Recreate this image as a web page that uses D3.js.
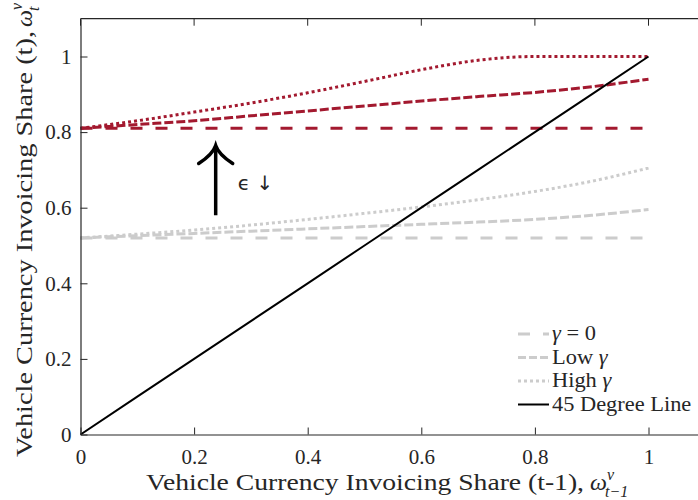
<!DOCTYPE html>
<html><head><meta charset="utf-8">
<script src="https://cdn.jsdelivr.net/npm/d3@7"></script>
<style>body{margin:0;background:#fff}svg{display:block}text{fill:#262626}</style>
</head><body><svg id="c" width="698" height="500"></svg>
<script>
const xGrid = [0, 0.1, 0.2, 0.3, 0.4, 0.5, 0.6, 0.7, 0.8, 0.9, 1.0];
const redZero = [0.81, 0.81, 0.81, 0.81, 0.81, 0.81, 0.81, 0.81, 0.81, 0.81, 0.81];
const redLow  = [0.81, 0.82, 0.83, 0.843, 0.856, 0.869, 0.882, 0.894, 0.905, 0.92, 0.94];
const redHigh = [0.81, 0.83, 0.853, 0.877, 0.904, 0.934, 0.965, 0.99, 1.0, 1.0, 1.0];
const grayZero = [0.52, 0.52, 0.52, 0.52, 0.52, 0.52, 0.52, 0.52, 0.52, 0.52, 0.52];
const grayLow  = [0.52, 0.526, 0.532, 0.538, 0.544, 0.55, 0.556, 0.562, 0.569, 0.58, 0.595];
const grayHigh = [0.52, 0.53, 0.541, 0.554, 0.569, 0.585, 0.602, 0.621, 0.643, 0.67, 0.705];
const diag = [0, 0.1, 0.2, 0.3, 0.4, 0.5, 0.6, 0.7, 0.8, 0.9, 1.0];
const xTicks = [0, 0.2, 0.4, 0.6, 0.8, 1];
const yTicks = [0, 0.2, 0.4, 0.6, 0.8, 1];
const legendLabels = ["γ = 0", "Low γ", "High γ", "45 Degree Line"];
const arrowX = 0.238, arrowY0 = 0.58, arrowY1 = 0.762;
const epsLabel = {x: 0.277, y: 0.648, text: "ϵ ↓"};

const SERIF = "'Liberation Serif','Times New Roman',serif";
const svg = d3.select("#c");
const x = d3.scaleLinear().domain([0, 1.1]).range([80.5, 705.3]);
const y = d3.scaleLinear().domain([0, 1.1]).range([434.5, 18.7]);
const RED = "#a3192f", GRAY = "#cccccc";

svg.append("defs").append("clipPath").attr("id","pc").append("rect")
  .attr("x",80).attr("y",18).attr("width",626).attr("height",417);

const line = d3.line().x(d => x(d[0])).y(d => y(d[1])).curve(d3.curveMonotoneX);
const straight = d3.line().x(d => x(d[0])).y(d => y(d[1]));
const zip = v => xGrid.map((xx,i)=>[xx,v[i]]);
const g = svg.append("g").attr("clip-path","url(#pc)");
const series = [
  {v: grayZero, c: GRAY, w: 3, d: "12,13"},
  {v: grayLow, c: GRAY, w: 3, d: "9,3"},
  {v: grayHigh, c: GRAY, w: 3, d: "3,3"},
  {v: redZero, c: RED, w: 3, d: "12,13"},
  {v: redLow, c: RED, w: 3, d: "9,3"},
  {v: redHigh, c: RED, w: 3, d: "3,3"},
  {v: diag, c: "#000", w: 2, d: null, lin: true}
];
series.forEach(s => {
  g.append("path")
   .attr("d", s.lin ? straight(zip(s.v)) : line(zip(s.v)))
   .attr("fill","none").attr("stroke", s.c).attr("stroke-width", s.w)
   .attr("stroke-dasharray", s.d);
});

// axes
const xa = svg.append("g").attr("transform",`translate(0,${y(0)})`)
  .call(d3.axisBottom(x).tickValues(xTicks).tickSize(-7).tickSizeOuter(0).tickPadding(15).tickFormat(d3.format("~g")));
const ya = svg.append("g").attr("transform",`translate(${x(0)},0)`)
  .call(d3.axisLeft(y).tickValues(yTicks).tickSize(-7).tickSizeOuter(0).tickPadding(9).tickFormat(d3.format("~g")));
[xa, ya].forEach(a => {
  a.select(".domain").attr("stroke","#262626").attr("stroke-width",1.2);
  a.selectAll(".tick line").attr("stroke","#262626").attr("stroke-width",1);
  a.selectAll("text").style("font-size","21px").style("font-family",SERIF).style("fill","#262626");
});
svg.append("line").attr("x1",x(0)).attr("x2",x(1.1)).attr("y1",y(1.1)).attr("y2",y(1.1))
  .attr("stroke","#262626").attr("stroke-width",1.2);
svg.selectAll(".tt").data(xTicks).enter().append("line")
  .attr("x1",d=>x(d)).attr("x2",d=>x(d)).attr("y1",y(1.1)).attr("y2",y(1.1)+7)
  .attr("stroke","#262626");

function stretch(t, len){ t.attr("textLength", len).attr("lengthAdjust","spacingAndGlyphs"); return t; }
function serif(sel, size, italic){ return sel.style("font-family",SERIF).style("font-size",size+"px").style("font-style", italic?"italic":"normal"); }

// x label
stretch(serif(svg.append("text").attr("x",146).attr("y",490),24)
  .text("Vehicle Currency Invoicing Share (t-1),"), 438);
serif(svg.append("text").attr("x",590).attr("y",490),24,true).text("ω");
serif(svg.append("text").attr("x",607).attr("y",480),16,true).text("v");
serif(svg.append("text").attr("x",605).attr("y",497),16,true).text("t−1");

// y label
const yg = svg.append("g").attr("transform","translate(32,0) rotate(-90)");
stretch(serif(yg.append("text").attr("x",-457).attr("y",0),24)
  .text("Vehicle Currency Invoicing Share (t),"), 426);
serif(yg.append("text").attr("x",-27).attr("y",0),24,true).text("ω");
serif(yg.append("text").attr("x",-10).attr("y",-10),16,true).text("v");
serif(yg.append("text").attr("x",-11).attr("y",7),16,true).text("t");

// arrow annotation
const ax = x(arrowX), ay0 = y(arrowY0), ay1 = y(arrowY1);
svg.append("line").attr("x1",ax).attr("x2",ax).attr("y1",ay0).attr("y2",ay1+1)
  .attr("stroke","#000").attr("stroke-width",3.5);
svg.append("path").attr("d",`M${ax-17},${ay1+17} Q${ax-3},${ay1+8} ${ax},${ay1-1} Q${ax+3},${ay1+8} ${ax+17},${ay1+17}`)
  .attr("fill","none").attr("stroke","#000").attr("stroke-width",3.5).attr("stroke-linecap","round");
svg.append("text").attr("x",x(epsLabel.x)).attr("y",y(epsLabel.y))
  .style("font-family","'DejaVu Sans', sans-serif").style("font-size","20px").style("fill","#262626")
  .text(epsLabel.text);

// legend
const leg = [
  {c: GRAY, d: "12,13", w: 3},
  {c: GRAY, d: "8,3", w: 3},
  {c: GRAY, d: "3,3", w: 3},
  {c: "#000", d: null, w: 2}
];
leg.forEach((l,i) => {
  const yy = 334 + i*23.5;
  svg.append("line").attr("x1",518).attr("x2",549).attr("y1",yy).attr("y2",yy)
    .attr("stroke",l.c).attr("stroke-width",l.w).attr("stroke-dasharray",l.d);
  const t = serif(svg.append("text").attr("x",552).attr("y",yy+6),20);
  const parts = legendLabels[i].split("γ");
  parts.forEach((p,j) => {
    if (p) t.append("tspan").text(p);
    if (j < parts.length-1) t.append("tspan").style("font-style","italic").text("γ");
  });
  const len = t.node().getComputedTextLength();
  stretch(t, len*1.12);
});
</script></body></html>
